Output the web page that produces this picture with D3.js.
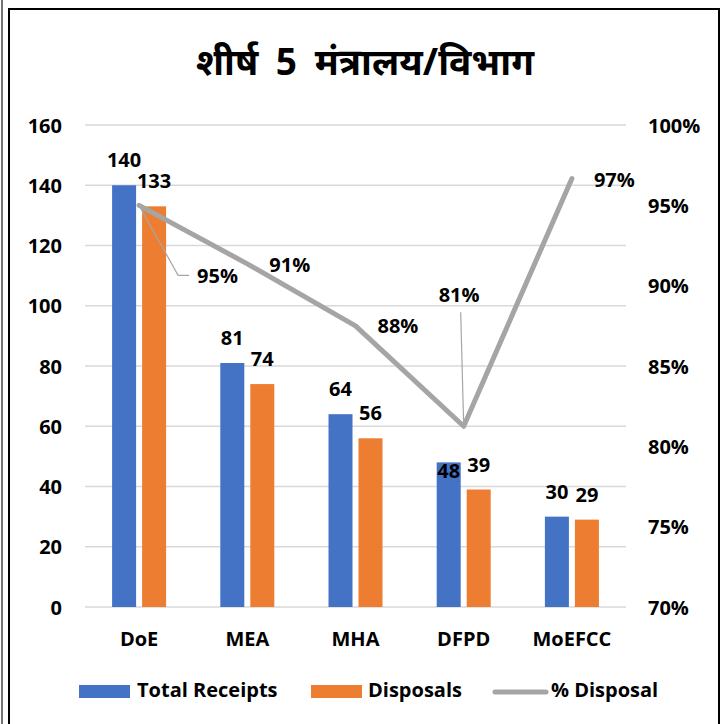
<!DOCTYPE html>
<html>
<head>
<meta charset="utf-8">
<script src="https://cdn.jsdelivr.net/npm/d3@7"></script>
<style>
  body { margin: 0; background: #fff; }
  text { font-family: "Open Sans", "Noto Sans", "DejaVu Sans", sans-serif; font-weight: bold; fill: #000; }
</style>
</head>
<body>
<svg id="chart" width="724" height="724"></svg>
<script>
// data
var categories = ["DoE", "MEA", "MHA", "DFPD", "MoEFCC"];
var totalReceipts = [140, 81, 64, 48, 30];
var disposals = [133, 74, 56, 39, 29];
var pctDisposal = totalReceipts.map(function (t, i) { return disposals[i] / t; });
var leftTicks = [0, 20, 40, 60, 80, 100, 120, 140, 160];
var rightTicks = [0.70, 0.75, 0.80, 0.85, 0.90, 0.95, 1.00];
var seriesNames = ["Total Receipts", "Disposals", "% Disposal"];

var svg = d3.select("#chart");
var FS = 20;

// frame
svg.append("line").attr("x1", 2).attr("x2", 2).attr("y1", 0).attr("y2", 724)
    .attr("stroke", "#444").attr("stroke-width", 1.5);
svg.append("rect").attr("x", 9).attr("y", 9).attr("width", 710).attr("height", 740)
    .attr("fill", "none").attr("stroke", "#000").attr("stroke-width", 2);

var plotL = 85, plotR = 626, plotT = 125, plotB = 607;

var x0 = d3.scaleBand().domain(categories).range([plotL, plotR]);
var y = d3.scaleLinear().domain([0, 160]).range([plotB, plotT]);
var y2 = d3.scaleLinear().domain([0.70, 1.00]).range([plotB, plotT]);
var colors = ["#4472C4", "#ED7D31", "#A5A5A5"];
var barW = 24, gap = 6;

// title
svg.append("text")
    .attr("x", 365).attr("y", 75)
    .attr("text-anchor", "middle")
    .style("font-family", "\"Noto Sans\", \"DejaVu Sans\", sans-serif")
    .style("word-spacing", "8px")
    .attr("font-size", 37)
    .text("शीर्ष 5 मंत्रालय/विभाग");

// gridlines
svg.append("g").selectAll("line")
    .data(leftTicks).enter().append("line")
    .attr("x1", plotL).attr("x2", plotR)
    .attr("y1", function (d) { return y(d); })
    .attr("y2", function (d) { return y(d); })
    .attr("stroke", "#D9D9D9")
    .attr("stroke-width", 1.3);

// left axis
var yAxisL = svg.append("g")
    .attr("transform", "translate(" + (plotL - 23) + ",0)")
    .call(d3.axisLeft(y).tickValues(leftTicks).tickSize(0).tickPadding(0));
yAxisL.select(".domain").remove();
yAxisL.selectAll("text").attr("font-size", FS).attr("dy", "0.36em");

// right axis
var yAxisR = svg.append("g")
    .attr("transform", "translate(648,0)")
    .call(d3.axisRight(y2).tickValues(rightTicks).tickSize(0).tickPadding(0).tickFormat(d3.format(".0%")));
yAxisR.select(".domain").remove();
yAxisR.selectAll("text").attr("font-size", FS).attr("dy", "0.36em");

// category axis
var xAxis = svg.append("g")
    .attr("transform", "translate(0," + (plotB + 25) + ")")
    .call(d3.axisBottom(x0).tickSize(0).tickPadding(0));
xAxis.select(".domain").remove();
xAxis.selectAll("text").attr("font-size", FS).attr("dy", "0.71em");

svg.selectAll(".tick text").attr("font-family", null);

function cx(c) { return x0(c) + x0.bandwidth() / 2; }

var rows = categories.map(function (c, i) {
    return { cat: c, vals: [totalReceipts[i], disposals[i]] };
});

// bars
var groups = svg.append("g").selectAll("g")
    .data(rows).enter().append("g");

groups.selectAll("rect")
    .data(function (d) { return d.vals.map(function (v, k) { return { cat: d.cat, v: v, k: k }; }); })
    .enter().append("rect")
    .attr("x", function (d) { return d.k === 0 ? cx(d.cat) - gap / 2 - barW : cx(d.cat) + gap / 2; })
    .attr("y", function (d) { return y(d.v); })
    .attr("width", barW)
    .attr("height", function (d) { return y(0) - y(d.v); })
    .attr("fill", function (d) { return colors[d.k]; });

// bar labels (48 was pushed below the line by hand in the original)
var barLabelShift = { "DFPD-0": 34 };
groups.selectAll("text.bl")
    .data(function (d) { return d.vals.map(function (v, k) { return { cat: d.cat, v: v, k: k }; }); })
    .enter().append("text")
    .attr("class", "bl")
    .attr("text-anchor", "middle")
    .attr("font-size", FS)
    .attr("x", function (d) { return d.k === 0 ? cx(d.cat) - gap / 2 - barW / 2 : cx(d.cat) + gap / 2 + barW / 2; })
    .attr("y", function (d) { return y(d.v) - 18 + (barLabelShift[d.cat + "-" + d.k] || 0); })
    .text(function (d) { return d.v; });

// % line
var line = d3.line()
    .x(function (d, i) { return cx(categories[i]); })
    .y(function (d) { return y2(d); });

svg.append("path")
    .datum(pctDisposal)
    .attr("d", line)
    .attr("fill", "none")
    .attr("stroke", colors[2])
    .attr("stroke-width", 5)
    .attr("stroke-linejoin", "round")
    .attr("stroke-linecap", "round");

// % labels: default to the right of the point, two were moved with leader lines
var pctOffsets = [
    { dx: 58, dy: 78, leader: [[39, 70], [50, 70]] },
    { dx: 22, dy: 8 },
    { dx: 22, dy: 7 },
    { dx: -25, dy: -124, leader: [[-3, -114]] },
    { dx: 22, dy: 8 }
];

pctDisposal.forEach(function (p, i) {
    var px = cx(categories[i]), py = y2(p), o = pctOffsets[i];
    if (o.leader) {
        var pts = [[px, py]].concat(o.leader.map(function (q) { return [px + q[0], py + q[1]]; }));
        svg.append("path")
            .attr("d", d3.line()(pts))
            .attr("fill", "none")
            .attr("stroke", "#A6A6A6")
            .attr("stroke-width", 1.2);
    }
    svg.append("text")
        .attr("x", px + o.dx)
        .attr("y", py + o.dy)
        .attr("font-size", FS)
        .text(d3.format(".0%")(p));
});

// legend
var legend = svg.append("g");
var legX = [79, 311, 493];
var legTx = [137, 368, 551];
seriesNames.forEach(function (name, i) {
    if (i < 2) {
        legend.append("rect").attr("x", legX[i]).attr("y", 685).attr("width", 51).attr("height", 13).attr("fill", colors[i]);
    } else {
        legend.append("line").attr("x1", legX[i] + 2).attr("x2", legX[i] + 53).attr("y1", 692).attr("y2", 692)
            .attr("stroke", colors[i]).attr("stroke-width", 5).attr("stroke-linecap", "round");
    }
    legend.append("text").attr("x", legTx[i]).attr("y", 697).attr("font-size", FS).text(name);
});
</script>
</body>
</html>
